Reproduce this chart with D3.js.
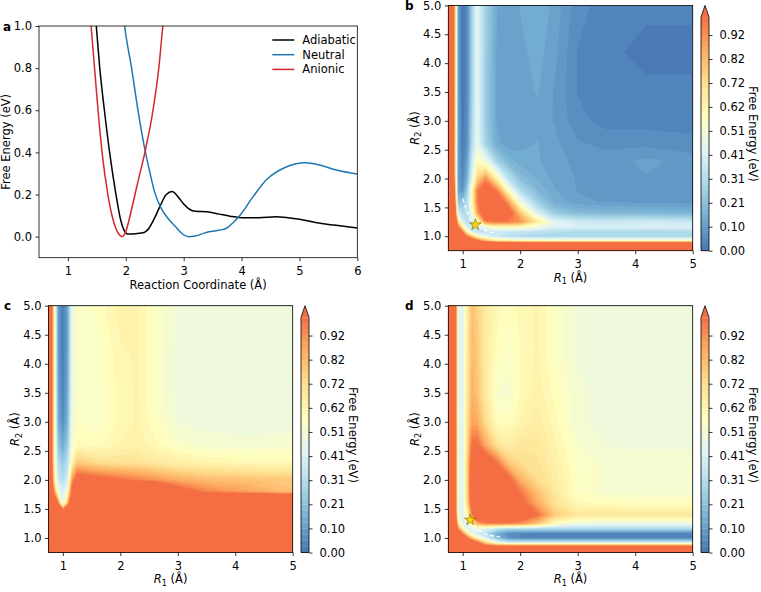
<!DOCTYPE html>
<html>
<head>
<meta charset="utf-8">
<script src="https://cdn.jsdelivr.net/npm/d3@7"></script>
<style>
  body { margin: 0; background: #fff; }
  svg text { font-family: 'DejaVu Sans', sans-serif; }
</style>
</head>
<body>
<svg id="chart" width="761" height="592"></svg>
<script>
// ---------- panel a: 1D profiles along the reaction coordinate ----------
var adiabaticX = [1.46, 1.49, 1.55, 1.63, 1.72, 1.83, 1.91, 1.97, 2.03, 2.1, 2.2, 2.3, 2.4, 2.5, 2.6, 2.7, 2.8, 2.9, 3.0, 3.1, 3.2, 3.4, 3.6, 3.8, 4.0, 4.3, 4.6, 4.8, 5.0, 5.3, 5.6, 6.0]
var adiabaticE = [1.1, 1.0, 0.8, 0.6, 0.4, 0.2, 0.08, 0.03, 0.013, 0.012, 0.015, 0.018, 0.04, 0.09, 0.15, 0.2, 0.214, 0.19, 0.155, 0.13, 0.12, 0.118, 0.108, 0.097, 0.09, 0.09, 0.094, 0.09, 0.083, 0.066, 0.055, 0.041]

var neutralX = [1.94, 1.98, 2.1, 2.21, 2.34, 2.42, 2.5, 2.6, 2.72, 2.85, 2.97, 3.08, 3.2, 3.39, 3.6, 3.74, 3.85, 3.97, 4.2, 4.43, 4.78, 5.1, 5.35, 5.64, 6.0]
var neutralE = [1.1, 1.0, 0.8, 0.6, 0.4, 0.3, 0.21, 0.14, 0.09, 0.05, 0.015, 0.0, 0.003, 0.02, 0.03, 0.04, 0.065, 0.1, 0.19, 0.27, 0.332, 0.351, 0.34, 0.316, 0.297]

var anionicX = [1.37, 1.4, 1.46, 1.52, 1.59, 1.69, 1.78, 1.86, 1.94, 2.0, 2.1, 2.2, 2.33, 2.47, 2.57, 2.64, 2.68]
var anionicE = [1.1, 1.0, 0.8, 0.6, 0.4, 0.2, 0.08, 0.02, 0.0, 0.025, 0.13, 0.25, 0.4, 0.6, 0.8, 1.0, 1.1]

var seriesNames = ['Adiabatic', 'Neutral', 'Anionic']
var seriesColors = ['#000000', '#1f77b4', '#d62728']

var profileXTicks = [1, 2, 3, 4, 5, 6]
var profileYTicks = [0.0, 0.2, 0.4, 0.6, 0.8, 1.0]

// ---------- panels b-d: 2D free energy surfaces (eV) ----------
// grid axis shared by R1 (columns) and R2 (rows, from 0.75 upwards)
var gridR = [0.75, 0.85, 0.92, 1.0, 1.08, 1.16, 1.25, 1.4, 1.6, 1.8, 2.0, 2.3, 2.6, 3.0, 3.5, 4.2, 5.0]

var surfaceB = [
  [1.6, 1.6, 1.6, 1.6, 1.6, 1.6, 1.6, 1.6, 1.6, 1.6, 1.6, 1.6, 1.6, 1.6, 1.6, 1.6, 1.6],
  [1.6, 1.6, 1.6, 1.6, 1.6, 1.6, 1.6, 1.6, 1.6, 1.6, 1.6, 1.6, 1.6, 1.6, 1.6, 1.6, 1.6],
  [1.6, 1.6, 1.6, 1.5, 1.35, 1.2, 1.05, 0.85, 0.7, 0.65, 0.62, 0.6, 0.6, 0.6, 0.6, 0.6, 0.6],
  [1.6, 1.6, 1.4, 1.15, 0.95, 0.8, 0.6, 0.45, 0.36, 0.32, 0.3, 0.28, 0.28, 0.28, 0.28, 0.28, 0.28],
  [1.6, 1.5, 1.2, 0.95, 0.6, 0.42, 0.35, 0.35, 0.36, 0.36, 0.36, 0.34, 0.32, 0.3, 0.3, 0.3, 0.3],
  [1.6, 1.45, 1.0, 0.65, 0.42, 0.35, 0.38, 0.5, 0.6, 0.6, 0.58, 0.5, 0.43, 0.41, 0.41, 0.42, 0.42],
  [1.6, 1.4, 0.75, 0.42, 0.33, 0.38, 0.55, 0.95, 0.98, 0.97, 0.92, 0.68, 0.45, 0.38, 0.37, 0.38, 0.37],
  [1.6, 1.3, 0.42, 0.3, 0.32, 0.5, 0.85, 1.2, 1.2, 1.1, 0.8, 0.42, 0.24, 0.19, 0.18, 0.18, 0.17],
  [1.6, 1.2, 0.22, 0.22, 0.32, 0.6, 0.95, 1.2, 1.15, 0.88, 0.5, 0.25, 0.15, 0.11, 0.1, 0.09, 0.09],
  [1.6, 1.1, 0.12, 0.08, 0.25, 0.58, 0.95, 1.1, 0.95, 0.55, 0.3, 0.18, 0.13, 0.1, 0.09, 0.09, 0.08],
  [1.6, 1.0, 0.12, 0.05, 0.17, 0.44, 0.75, 0.92, 0.62, 0.33, 0.2, 0.15, 0.12, 0.1, 0.1, 0.1, 0.09],
  [1.6, 0.95, 0.12, 0.03, 0.12, 0.37, 0.57, 0.5, 0.26, 0.17, 0.14, 0.13, 0.12, 0.09, 0.09, 0.11, 0.09],
  [1.6, 0.95, 0.12, 0.02, 0.08, 0.3, 0.47, 0.27, 0.14, 0.11, 0.12, 0.13, 0.11, 0.08, 0.07, 0.07, 0.06],
  [1.6, 0.95, 0.12, 0.01, 0.07, 0.28, 0.46, 0.24, 0.12, 0.11, 0.12, 0.12, 0.1, 0.06, 0.04, 0.04, 0.04],
  [1.6, 0.95, 0.12, 0.0, 0.06, 0.27, 0.46, 0.24, 0.12, 0.11, 0.12, 0.13, 0.1, 0.05, 0.03, 0.03, 0.03],
  [1.6, 0.95, 0.12, 0.0, 0.06, 0.27, 0.46, 0.25, 0.12, 0.11, 0.12, 0.14, 0.11, 0.05, 0.03, 0.02, 0.02],
  [1.6, 0.95, 0.12, 0.0, 0.06, 0.27, 0.46, 0.26, 0.13, 0.11, 0.13, 0.15, 0.12, 0.06, 0.04, 0.03, 0.03]
]

var surfaceC = [
  [1.6, 1.6, 1.6, 1.6, 1.6, 1.6, 1.6, 1.6, 1.6, 1.6, 1.6, 1.6, 1.6, 1.6, 1.6, 1.6, 1.6],
  [1.6, 1.6, 1.6, 1.6, 1.6, 1.6, 1.6, 1.6, 1.6, 1.6, 1.6, 1.6, 1.6, 1.6, 1.6, 1.6, 1.6],
  [1.6, 1.6, 1.6, 1.6, 1.6, 1.6, 1.6, 1.6, 1.6, 1.6, 1.6, 1.6, 1.6, 1.6, 1.6, 1.6, 1.6],
  [1.6, 1.6, 1.6, 1.6, 1.6, 1.6, 1.6, 1.6, 1.6, 1.6, 1.6, 1.6, 1.6, 1.6, 1.6, 1.6, 1.6],
  [1.6, 1.6, 1.6, 1.6, 1.6, 1.6, 1.6, 1.6, 1.6, 1.6, 1.6, 1.6, 1.6, 1.6, 1.6, 1.6, 1.6],
  [1.6, 1.6, 1.6, 1.6, 1.6, 1.6, 1.6, 1.6, 1.6, 1.6, 1.6, 1.6, 1.6, 1.6, 1.6, 1.6, 1.6],
  [1.6, 1.6, 1.6, 1.6, 1.6, 1.6, 1.6, 1.6, 1.6, 1.6, 1.6, 1.6, 1.6, 1.6, 1.6, 1.6, 1.6],
  [1.6, 1.6, 1.6, 1.4, 1.6, 1.6, 1.6, 1.6, 1.6, 1.6, 1.6, 1.6, 1.6, 1.6, 1.6, 1.6, 1.6],
  [1.6, 1.3, 0.95, 0.45, 0.8, 1.3, 1.6, 1.6, 1.6, 1.6, 1.6, 1.6, 1.6, 1.6, 1.6, 1.6, 1.6],
  [1.6, 0.9, 0.5, 0.4, 0.55, 1.05, 1.5, 1.6, 1.6, 1.6, 1.6, 1.6, 1.4, 1.1, 0.95, 0.88, 0.8],
  [1.6, 0.7, 0.38, 0.32, 0.4, 0.9, 1.1, 1.08, 1.05, 1.03, 1.0, 0.96, 0.92, 0.86, 0.82, 0.8, 0.78],
  [1.6, 0.6, 0.3, 0.24, 0.32, 0.62, 0.78, 0.75, 0.72, 0.7, 0.7, 0.7, 0.67, 0.64, 0.62, 0.6, 0.6],
  [1.6, 0.6, 0.22, 0.14, 0.24, 0.52, 0.6, 0.58, 0.58, 0.6, 0.62, 0.63, 0.6, 0.55, 0.53, 0.52, 0.53],
  [1.6, 0.6, 0.15, 0.06, 0.17, 0.5, 0.57, 0.55, 0.55, 0.57, 0.6, 0.62, 0.57, 0.51, 0.5, 0.5, 0.5],
  [1.6, 0.6, 0.12, 0.03, 0.14, 0.48, 0.56, 0.54, 0.55, 0.57, 0.6, 0.62, 0.56, 0.5, 0.5, 0.5, 0.5],
  [1.6, 0.6, 0.1, 0.02, 0.12, 0.48, 0.56, 0.54, 0.55, 0.58, 0.61, 0.62, 0.56, 0.5, 0.5, 0.5, 0.5],
  [1.6, 0.6, 0.1, 0.02, 0.12, 0.48, 0.56, 0.56, 0.57, 0.6, 0.63, 0.62, 0.56, 0.51, 0.5, 0.5, 0.5]
]

var surfaceD = [
  [1.6, 1.6, 1.6, 1.6, 1.6, 1.6, 1.6, 1.6, 1.6, 1.6, 1.6, 1.6, 1.6, 1.6, 1.6, 1.6, 1.6],
  [1.6, 1.6, 1.6, 1.6, 1.1, 1.1, 1.1, 1.1, 1.1, 1.1, 1.1, 1.1, 1.1, 1.1, 1.1, 1.1, 1.1],
  [1.6, 1.6, 1.6, 1.5, 1.35, 1.2, 1.05, 0.75, 0.5, 0.4, 0.4, 0.4, 0.4, 0.4, 0.4, 0.4, 0.4],
  [1.6, 1.6, 1.4, 1.2, 1.0, 0.8, 0.6, 0.42, 0.2, 0.08, 0.05, 0.04, 0.04, 0.04, 0.04, 0.04, 0.04],
  [1.6, 1.5, 1.2, 0.95, 0.65, 0.45, 0.4, 0.32, 0.15, 0.07, 0.05, 0.05, 0.05, 0.05, 0.05, 0.05, 0.05],
  [1.6, 1.45, 0.95, 0.6, 0.45, 0.45, 0.5, 0.45, 0.35, 0.3, 0.3, 0.3, 0.3, 0.3, 0.3, 0.3, 0.3],
  [1.6, 1.45, 0.7, 0.45, 0.45, 0.6, 0.85, 0.95, 0.96, 0.95, 0.92, 0.8, 0.58, 0.5, 0.48, 0.48, 0.48],
  [1.6, 1.4, 0.5, 0.44, 0.6, 0.95, 1.25, 1.3, 1.3, 1.25, 1.18, 1.0, 0.78, 0.68, 0.68, 0.68, 0.68],
  [1.6, 1.4, 0.47, 0.45, 0.72, 1.1, 1.3, 1.3, 1.3, 1.2, 1.06, 0.86, 0.7, 0.6, 0.58, 0.57, 0.57],
  [1.6, 1.4, 0.47, 0.45, 0.75, 1.15, 1.3, 1.3, 1.25, 1.1, 0.98, 0.8, 0.68, 0.56, 0.53, 0.52, 0.52],
  [1.6, 1.4, 0.47, 0.45, 0.75, 1.15, 1.3, 1.3, 1.2, 1.05, 0.85, 0.72, 0.66, 0.56, 0.53, 0.52, 0.52],
  [1.6, 1.4, 0.47, 0.45, 0.75, 1.1, 1.2, 1.15, 0.98, 0.78, 0.72, 0.7, 0.64, 0.56, 0.53, 0.52, 0.52],
  [1.6, 1.4, 0.47, 0.45, 0.72, 1.0, 1.02, 0.86, 0.7, 0.65, 0.68, 0.68, 0.62, 0.54, 0.51, 0.51, 0.51],
  [1.6, 1.4, 0.47, 0.45, 0.7, 0.88, 0.86, 0.72, 0.58, 0.57, 0.62, 0.66, 0.6, 0.52, 0.5, 0.5, 0.5],
  [1.6, 1.4, 0.47, 0.45, 0.68, 0.84, 0.8, 0.66, 0.54, 0.53, 0.59, 0.63, 0.58, 0.52, 0.5, 0.5, 0.5],
  [1.6, 1.4, 0.47, 0.45, 0.66, 0.82, 0.78, 0.66, 0.58, 0.55, 0.59, 0.62, 0.56, 0.51, 0.5, 0.5, 0.5],
  [1.6, 1.4, 0.47, 0.45, 0.65, 0.8, 0.76, 0.66, 0.6, 0.57, 0.6, 0.62, 0.56, 0.51, 0.5, 0.5, 0.5]
]

// minimum energy paths (white dashes) and transition states (stars)
var pathB = [[1.0, 1.65], [1.08, 1.42], [1.15, 1.27], [1.22, 1.2], [1.35, 1.12], [1.53, 1.06]]
var pathD = [[1.18, 1.2], [1.3, 1.12], [1.45, 1.05], [1.65, 1.02]]
var starB = [1.22, 1.2]
var starD = [1.13, 1.31]

var surfaceXTicks = [1, 2, 3, 4, 5]
var surfaceYTicks = [1.0, 1.5, 2.0, 2.5, 3.0, 3.5, 4.0, 4.5, 5.0]

// 40 contour levels from 0 to 1 eV, colorbar labels every 4th level
var levels = d3.range(40).map(i => i / 39)
var cbarTickLabels = ['0.00', '0.10', '0.21', '0.31', '0.41', '0.51', '0.62', '0.72', '0.82', '0.92']

// ColorBrewer RdYlBu, linearly interpolated like matplotlib, used reversed and truncated
var rdylbu = ['#a50026', '#d73027', '#f46d43', '#fdae61', '#fee090', '#ffffbf', '#e0f3f8', '#abd9e9', '#74add1', '#4575b4', '#313695']

// ---------- shared settings ----------
var fontSize = 11.5
var svg = d3.select('#chart')

var rdylbuR = d3.scaleLinear()
  .domain(d3.range(11).map(i => i / 10))
  .range(rdylbu.slice().reverse())
  .interpolate(d3.interpolateRgb)

function cmap(v) {
  return rdylbuR(0.1 + 0.7 * v)
}
function bandColor(i) {
  return cmap((levels[i] + levels[i + 1]) / 2)
}
var overColor = cmap(1)

function styleAxis(sel) {
  sel.attr('font-size', fontSize).attr('font-family', 'DejaVu Sans, sans-serif')
  sel.select('.domain').remove()
  sel.selectAll('.tick line').attr('stroke', '#000').attr('stroke-width', 0.8)
  sel.selectAll('.tick text').attr('fill', '#000')
}

function addAxes(g, xScale, yScale, w, h, xTicks, yTicks, xFmt, yFmt) {
  var xAxis = d3.axisBottom(xScale).tickValues(xTicks).tickFormat(xFmt)
    .tickSize(3.5).tickPadding(3.5)
  var gx = g.append('g').attr('transform', 'translate(0,' + h + ')').call(xAxis)
  styleAxis(gx)
  gx.selectAll('.tick text').attr('dy', '0.9em')

  var yAxis = d3.axisLeft(yScale).tickValues(yTicks).tickFormat(yFmt)
    .tickSize(3.5).tickPadding(3.5)
  var gy = g.append('g').call(yAxis)
  styleAxis(gy)

  // full box frame
  g.append('rect')
    .attr('width', w)
    .attr('height', h)
    .attr('fill', 'none')
    .attr('stroke', '#000')
    .attr('stroke-width', 0.8)
}

function panelLetter(x, y, letter) {
  svg.append('text')
    .attr('x', x)
    .attr('y', y)
    .attr('font-size', 12)
    .attr('font-weight', 'bold')
    .text(letter)
}

// R with italic symbol and subscript
function rLabel(sel, sub) {
  sel.append('tspan').attr('font-style', 'italic').text('R')
  sel.append('tspan').attr('font-size', fontSize * 0.7).attr('dy', 2.5).text(sub)
  sel.append('tspan').attr('dy', -2.5).text(' (Å)')
}

// ---------- panel a ----------
var pa = { left: 39, top: 26, width: 318.3, height: 231.7 }
var ga = svg.append('g').attr('transform', 'translate(' + pa.left + ',' + pa.top + ')')

var xScaleA = d3.scaleLinear().domain([0.5, 6]).range([0, pa.width])
var yScaleA = d3.scaleLinear().domain([-0.1, 1.0]).range([pa.height, 0])

ga.append('clipPath').attr('id', 'clip-a')
  .append('rect').attr('width', pa.width).attr('height', pa.height)

var profiles = [
  { xs: adiabaticX, ys: adiabaticE },
  { xs: neutralX, ys: neutralE },
  { xs: anionicX, ys: anionicE }
]

var profileLine = d3.line()
  .x(d => xScaleA(d[0]))
  .y(d => yScaleA(d[1]))
  .curve(d3.curveMonotoneX)

ga.append('g')
  .attr('clip-path', 'url(#clip-a)')
  .selectAll('path')
  .data(profiles)
  .join('path')
  .attr('d', d => profileLine(d.xs.map((x, i) => [x, d.ys[i]])))
  .attr('fill', 'none')
  .attr('stroke', (d, i) => seriesColors[i])
  .attr('stroke-width', 1.5)

addAxes(ga, xScaleA, yScaleA, pa.width, pa.height, profileXTicks, profileYTicks,
  d3.format('d'), d3.format('.1f'))

// legend
var legend = ga.append('g').attr('transform', 'translate(' + (pa.width - 85) + ',14)')
seriesNames.forEach(function(name, i) {
  legend.append('line')
    .attr('x1', 0).attr('x2', 22)
    .attr('y1', i * 14.7).attr('y2', i * 14.7)
    .attr('stroke', seriesColors[i])
    .attr('stroke-width', 1.5)
  legend.append('text')
    .attr('x', 30)
    .attr('y', i * 14.7)
    .attr('dy', '0.35em')
    .attr('font-size', fontSize)
    .text(name)
})

ga.append('text')
  .attr('x', pa.width / 2)
  .attr('y', pa.height + 31)
  .attr('text-anchor', 'middle')
  .attr('font-size', fontSize)
  .text('Reaction Coordinate (Å)')

ga.append('text')
  .attr('transform', 'translate(-29,' + pa.height / 2 + ') rotate(-90)')
  .attr('text-anchor', 'middle')
  .attr('font-size', fontSize)
  .text('Free Energy (eV)')

panelLetter(3, 30.5, 'a')

// ---------- panels b, c, d ----------
function drawSurface(p, grid, id, path, star) {
  var n = gridR.length
  var g = svg.append('g').attr('transform', 'translate(' + p.left + ',' + p.top + ')')

  var xScale = d3.scaleLinear().domain([0.75, 5]).range([0, p.width])
  var yScale = d3.scaleLinear().domain([0.75, 5]).range([p.height, 0])
  // grid index -> R value (non-uniform grid)
  var indexToR = d3.scaleLinear().domain(d3.range(n)).range(gridR).clamp(true)

  var projection = d3.geoTransform({
    point: function(gx, gy) {
      this.stream.point(xScale(indexToR(gx - 0.5)), yScale(indexToR(gy - 0.5)))
    }
  })
  var geoPath = d3.geoPath(projection)

  var values = []
  grid.forEach(row => row.forEach(v => values.push(v)))
  var bands = d3.contours().size([n, n]).thresholds(levels)(values)

  g.append('clipPath').attr('id', 'clip-' + id)
    .append('rect').attr('width', p.width).attr('height', p.height)

  g.append('g')
    .attr('clip-path', 'url(#clip-' + id + ')')
    .selectAll('path')
    .data(bands)
    .join('path')
    .attr('d', geoPath)
    .attr('fill', (d, i) => (i < levels.length - 1 ? bandColor(i) : overColor))

  if (path) {
    g.append('path')
      .attr('d', d3.line().x(d => xScale(d[0])).y(d => yScale(d[1])).curve(d3.curveCatmullRom)(path))
      .attr('fill', 'none')
      .attr('stroke', '#fff')
      .attr('stroke-width', 1.2)
      .attr('stroke-dasharray', '4,2.5')
  }
  if (star) {
    g.append('path')
      .attr('d', d3.symbol(d3.symbolStar, 40)())
      .attr('transform', 'translate(' + xScale(star[0]) + ',' + yScale(star[1]) + ')')
      .attr('fill', '#ffd700')
      .attr('stroke', '#5a4a00')
      .attr('stroke-width', 0.5)
  }

  addAxes(g, xScale, yScale, p.width, p.height, surfaceXTicks, surfaceYTicks,
    d3.format('d'), d3.format('.1f'))

  g.append('text')
    .attr('x', p.width / 2)
    .attr('y', p.height + 31)
    .attr('text-anchor', 'middle')
    .attr('font-size', fontSize)
    .call(rLabel, '1')

  g.append('text')
    .attr('transform', 'translate(-29.5,' + p.height / 2 + ') rotate(-90)')
    .attr('text-anchor', 'middle')
    .attr('font-size', fontSize)
    .call(rLabel, '2')

  // colorbar with extend-max triangle
  var cbW = 8
  var cbX = p.width + 8.3
  var interior = p.height / 1.05
  var cbScale = d3.scaleLinear().domain([0, 1]).range([p.height, p.height - interior])
  var cb = g.append('g').attr('transform', 'translate(' + cbX + ',0)')

  cb.selectAll('rect')
    .data(d3.range(levels.length - 1))
    .join('rect')
    .attr('x', 0)
    .attr('width', cbW)
    .attr('y', i => cbScale(levels[i + 1]))
    .attr('height', i => cbScale(levels[i]) - cbScale(levels[i + 1]) + 0.3)
    .attr('fill', i => bandColor(i))

  var topY = cbScale(1)
  cb.append('path')
    .attr('d', 'M0,' + topY + 'L' + cbW / 2 + ',' + (p.height - interior * 1.05) + 'L' + cbW + ',' + topY + 'Z')
    .attr('fill', overColor)

  cb.append('path')
    .attr('d', 'M0,' + p.height + 'V' + topY + 'L' + cbW / 2 + ',' + (p.height - interior * 1.05) +
      'L' + cbW + ',' + topY + 'V' + p.height + 'Z')
    .attr('fill', 'none')
    .attr('stroke', '#000')
    .attr('stroke-width', 0.8)

  var cbAxis = d3.axisRight(cbScale)
    .tickValues(levels.filter((d, i) => i % 4 === 0))
    .tickFormat((d, i) => cbarTickLabels[i])
    .tickSize(3.5)
    .tickPadding(7)
  var gcb = cb.append('g').attr('transform', 'translate(' + cbW + ',0)').call(cbAxis)
  styleAxis(gcb)

  cb.append('text')
    .attr('transform', 'translate(' + (cbW + 40) + ',' + (p.height - interior / 2) + ') rotate(90)')
    .attr('text-anchor', 'middle')
    .attr('font-size', fontSize)
    .text('Free Energy (eV)')
}

var pb = { left: 448.3, top: 5.4, width: 244.4, height: 245.3 }
var pc = { left: 48.5, top: 305.7, width: 244.2, height: 246.8 }
var pd = { left: 448.3, top: 305.7, width: 244.4, height: 246.8 }

drawSurface(pb, surfaceB, 'b', pathB, starB)
drawSurface(pc, surfaceC, 'c', null, null)
drawSurface(pd, surfaceD, 'd', pathD, starD)

panelLetter(405, 10, 'b')
panelLetter(4, 310, 'c')
panelLetter(405, 310, 'd')
</script>
</body>
</html>
